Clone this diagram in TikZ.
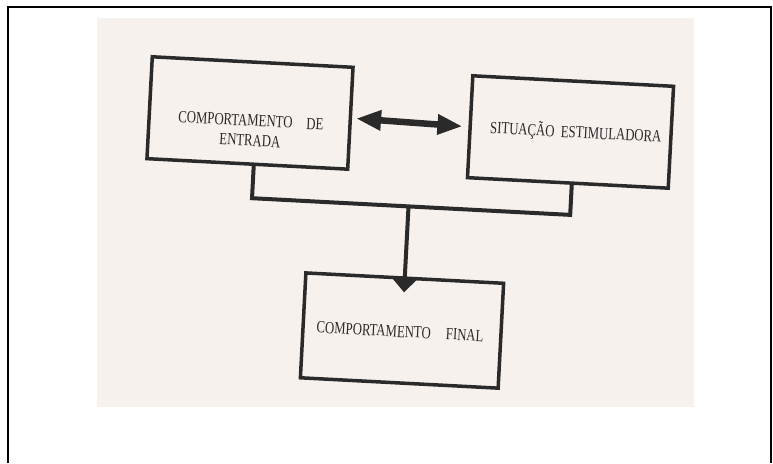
\documentclass[tikz,border=0pt]{standalone}
\usepackage{fontspec}
\setmainfont{Liberation Serif}
\usetikzlibrary{arrows.meta}
\definecolor{paper}{RGB}{246,241,237}
\definecolor{ink}{RGB}{42,42,42}
\begin{document}
\begin{tikzpicture}[x=1pt,y=-1pt,
  box/.style={draw=ink, line width=3.5pt, minimum width=201pt, minimum height=102pt, inner sep=0pt},
  lbl/.style={text=ink, font=\fontsize{17}{19}\selectfont, align=center, inner sep=0pt},
  link/.style={draw=ink, line width=4pt, line join=miter}]
\useasboundingbox (0,0) rectangle (773,463);
\fill[white] (0,0) rectangle (773,463);
\fill[paper] (97,18) rectangle (694,407);
\draw[line width=2pt] (8,463) -- (8,7) -- (771,7) -- (771,463);
\begin{scope}[rotate around={-3:(410,220)}, transform shape]
  \node[box] (entrada) at (244.6,121.5) {};
  \node[box] (situacao) at (565.7,123.7) {};
  \node[box, minimum width=198pt, minimum height=105pt] (final) at (407.8,330.8) {};
  \node[lbl] (tentrada) at (246,139) {\scalebox{0.75}[1]{COMPORTAMENTO\hspace{1.1em}DE}\\[1pt]\scalebox{0.75}[1]{ENTRADA}};
  \node[lbl] (tsituacao) at (571,124) {\scalebox{0.75}[1]{SITUAÇÃO\hspace{0.5em}ESTIMULADORA}};
  \node[lbl] (tfinal) at (406,332) {\scalebox{0.75}[1]{COMPORTAMENTO\hspace{1.2em}FINAL}};
  \coordinate (junction) at (407.8,206.5);
  \draw[link, line width=6.5pt, {Triangle[length=25pt,width=19pt]}-{Triangle[length=25pt,width=19pt]}]
    ([xshift=4pt]entrada.east) -- ([xshift=-6pt]situacao.west);
  \draw[link] ([xshift=6.5pt]entrada.south) |- (junction) -| ([xshift=4pt]situacao.south);
  \draw[link, -{Triangle[length=14pt,width=25pt]}] (junction) -- ([yshift=-16pt]final.north);
\end{scope}
\end{tikzpicture}
\end{document}
